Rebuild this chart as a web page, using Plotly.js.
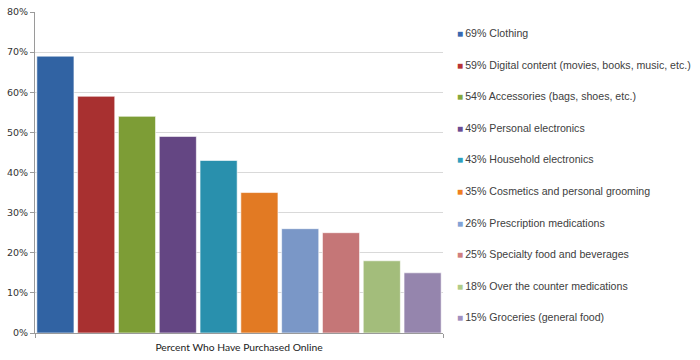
<!DOCTYPE html>
<html>
<head>
<meta charset="utf-8">
<script src="https://cdn.plot.ly/plotly-3.0.1.min.js"></script>
<style>html,body{margin:0;padding:0;background:#fff;}#chart{width:700px;height:360px;}</style>
</head>
<body>
<div id="chart"></div>
<script>
const category = "Percent Who Have Purchased Online";
const labels = [
  "69% Clothing",
  "59% Digital content (movies, books, music, etc.)",
  "54% Accessories (bags, shoes, etc.)",
  "49% Personal electronics",
  "43% Household electronics",
  "35% Cosmetics and personal grooming",
  "26% Prescription medications",
  "25% Specialty food and beverages",
  "18% Over the counter medications",
  "15% Groceries (general food)"
];
const values = [0.69, 0.59, 0.54, 0.49, 0.43, 0.35, 0.26, 0.25, 0.18, 0.15];
const colors = ["#3163a3", "#a83030", "#7d9d36", "#644683", "#2990ad", "#e27a23", "#7a97c7", "#c57677", "#a3bd7b", "#9585ad"];
const legendColors = ["#3868b0", "#b83434", "#86a83c", "#6b4c92", "#2f9fbf", "#f07f20", "#82a2d6", "#d07e7e", "#b0cc87", "#a08fbf"];
const yTicks = [0, 0.1, 0.2, 0.3, 0.4, 0.5, 0.6, 0.7, 0.8];
const yTickText = ["0%", "10%", "20%", "30%", "40%", "50%", "60%", "70%", "80%"];

const traces = labels.map((name, i) => ({
  type: "bar",
  name: name,
  x: [category],
  y: [values[i]],
  marker: {color: colors[i], line: {color: "rgba(255,255,255,0.6)", width: 1}},
  hoverinfo: "name",
  showlegend: false
}));

// Legend drawn as text annotations placed to the right of the plot
const plotL = 35, plotR = 443, plotT = 12, plotB = 333;
const legendAnnotations = labels.map((name, i) => ({
  xref: "paper", yref: "paper",
  x: (455 - plotL) / (plotR - plotL),
  y: (plotB - (33 + i * 31.6)) / (plotB - plotT),
  xanchor: "left", yanchor: "middle", showarrow: false,
  align: "left",
  text: "<span style='color:" + legendColors[i] + ";font-size:10px'>■</span>\u2009" + name,
  font: {family: "Liberation Sans, Arial, sans-serif", size: 10.6, color: "#404040"}
}));

const layout = {
  width: 700, height: 360,
  margin: {l: plotL, r: 700 - plotR, t: plotT, b: 360 - plotB},
  paper_bgcolor: "#fff", plot_bgcolor: "#fff",
  barmode: "group", bargap: 0, bargroupgap: 0.09,
  showlegend: false,
  annotations: legendAnnotations,
  xaxis: {
    type: "category",
    showline: true, linecolor: "#9a9a9a", linewidth: 1,
    ticks: "outside", tickson: "boundaries", ticklen: 4, tickcolor: "#9a9a9a",
    ticklabelstandoff: 5,
    tickfont: {family: "Lato, sans-serif", size: 10.3, color: "#222"},
    showgrid: false, fixedrange: true
  },
  yaxis: {
    range: [0, 0.8], tickvals: yTicks, ticktext: yTickText,
    showline: true, linecolor: "#9a9a9a", linewidth: 1,
    ticks: "outside", ticklen: 4, tickcolor: "#9a9a9a",
    showgrid: true, gridcolor: "#d9d9d9", gridwidth: 1, zeroline: false,
    tickfont: {family: "DejaVu Sans, sans-serif", size: 9.5, color: "#333"},
    fixedrange: true
  }
};

Plotly.newPlot("chart", traces, layout, {displayModeBar: false, staticPlot: true});
</script>
</body>
</html>
